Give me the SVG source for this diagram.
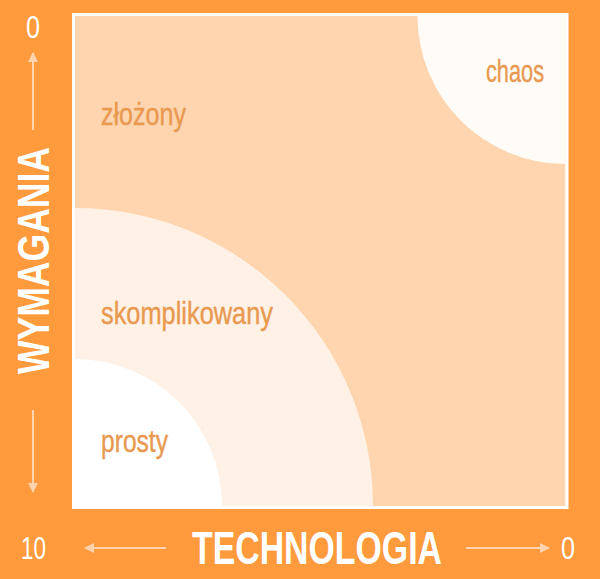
<svg xmlns="http://www.w3.org/2000/svg" width="600" height="579" viewBox="0 0 600 579">
<style>
.lbl{font-family:"Liberation Sans Narrow","Liberation Sans",Arial,sans-serif;font-size:32px;fill:#E8994F;stroke:#E8994F;stroke-width:0.4}
.ax{font-family:"Liberation Sans Narrow","Liberation Sans",Arial,sans-serif;font-weight:bold;fill:#FFFFFF}
.num{font-family:"Liberation Sans Narrow","Liberation Sans",Arial,sans-serif;font-size:32px;fill:#FFFFFF}
.arr{stroke:#FFD3AE;stroke-width:2;fill:none}
</style>
<defs>
<clipPath id="inner"><rect x="75" y="16" width="490.5" height="490"/></clipPath>
<marker id="ah" viewBox="0 0 10 10" refX="9" refY="5" markerWidth="5" markerHeight="5" orient="auto" markerUnits="strokeWidth">
<path d="M0,0 L10,5 L0,10 Z" fill="#FFD3AE"/>
</marker>
</defs>
<rect width="600" height="579" fill="#FF9A3D"/>
<rect x="72" y="13" width="496.5" height="496" fill="#FFFFFF"/>
<g clip-path="url(#inner)">
<rect x="75" y="16" width="490.5" height="490" fill="#FFD5B0"/>
<g id="chaos"><circle cx="565.5" cy="16" r="148" fill="#FFFBF6"/></g>
<g id="skomplikowany"><circle cx="75" cy="506" r="298" fill="#FFF1E5"/></g>
<g id="prosty"><circle cx="75" cy="506" r="147" fill="#FFFFFF"/></g>
</g>
<g id="labels">
<text class="lbl" x="101" y="125" textLength="85" lengthAdjust="spacingAndGlyphs">złożony</text>
<text class="lbl" x="486" y="82" textLength="58" lengthAdjust="spacingAndGlyphs">chaos</text>
<text class="lbl" x="101" y="324" textLength="172" lengthAdjust="spacingAndGlyphs">skomplikowany</text>
<text class="lbl" x="101" y="452" textLength="67" lengthAdjust="spacingAndGlyphs">prosty</text>
</g>
<g id="axes">
<text class="ax" x="192" y="564" font-size="46" textLength="250" lengthAdjust="spacingAndGlyphs">TECHNOLOGIA</text>
<text class="ax" transform="translate(48.5,374) rotate(-90)" x="0" y="0" font-size="45" textLength="227" lengthAdjust="spacingAndGlyphs">WYMAGANIA</text>
<text class="num" x="26" y="38" textLength="14" lengthAdjust="spacingAndGlyphs">0</text>
<text class="num" x="21" y="559" textLength="25" lengthAdjust="spacingAndGlyphs">10</text>
<text class="num" x="561" y="559" textLength="14" lengthAdjust="spacingAndGlyphs">0</text>
</g>
<g id="connectors">
<line class="arr" x1="33" y1="130" x2="33" y2="53" marker-end="url(#ah)"/>
<line class="arr" x1="33" y1="410" x2="33" y2="492" marker-end="url(#ah)"/>
<line class="arr" x1="166" y1="548" x2="85" y2="548" marker-end="url(#ah)"/>
<line class="arr" x1="466" y1="548" x2="549" y2="548" marker-end="url(#ah)"/>
</g>
</svg>
